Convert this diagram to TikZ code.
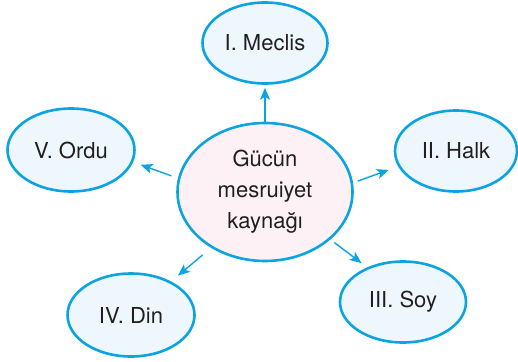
\documentclass[tikz,border=0pt]{standalone}
\usepackage{fontspec}
\setmainfont{TeX Gyre Heros}
\usetikzlibrary{shapes.geometric,arrows.meta}
\definecolor{cyanline}{HTML}{0BA4E0}
\definecolor{lightfill}{HTML}{EEF7FD}
\definecolor{pinkfill}{HTML}{FDF1F5}
\definecolor{txt}{HTML}{231F20}
\begin{document}
\begin{tikzpicture}[x=1pt,y=-1pt,
  bubble/.style={ellipse,draw=cyanline,line width=2.6pt,fill=lightfill,inner sep=0pt,
    text=txt,font=\fontsize{22}{31}\selectfont},
  arr/.style={draw=cyanline,line width=1.4pt,-{Stealth[length=12pt,width=10pt,inset=3pt]}}]
\useasboundingbox (0,0) rectangle (518,361);
\node[bubble,fill=pinkfill,minimum width=175pt,minimum height=138pt,align=center] (c) at (265,192) {Gücün\\mesruiyet\\kaynağı};
\node[bubble,minimum width=125pt,minimum height=81pt] (meclis) at (265,43) {I. Meclis};
\node[bubble,minimum width=122pt,minimum height=81pt] (halk) at (456,151) {II. Halk};
\node[bubble,minimum width=126pt,minimum height=81pt] (soy) at (403,302) {III. Soy};
\node[bubble,minimum width=127pt,minimum height=83pt] (din) at (131,315) {IV. Din};
\node[bubble,minimum width=127pt,minimum height=83pt] (ordu) at (71,150) {V. Ordu};
\draw[arr,shorten >=3pt] (c.north) -- (meclis.south);
\draw[arr,shorten <=5pt,shorten >=10pt] (c.6.8) -- (halk.195.3);
\draw[arr,shorten <=5pt,shorten >=7pt] (c.-36.9) -- (soy.136.4);
\draw[arr,shorten <=11pt,shorten >=9pt] (c.226.8) -- (din.40.3);
\draw[arr,shorten <=7pt,shorten >=8pt] (c.171) -- (ordu.-11.5);
\end{tikzpicture}
\end{document}
